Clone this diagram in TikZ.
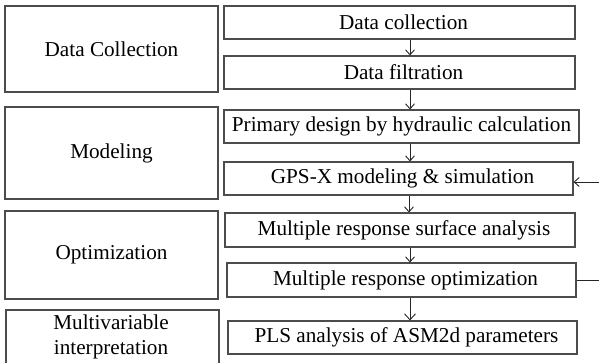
\documentclass[tikz,border=0pt]{standalone}
\usepackage{fontspec}
\setmainfont{Liberation Serif}
\usetikzlibrary{arrows.meta}
\begin{document}
\begin{tikzpicture}[x=1pt,y=-1pt,
  lbox/.style={draw=black!70,line width=1.1pt,inner sep=0pt,align=center,
    font=\fontsize{21.2}{25}\selectfont,text=black},
  rbox/.style={draw=black!70,line width=1.1pt,inner sep=0pt,
    font=\fontsize{21.2}{25}\selectfont,text=black,
    execute at begin node={\hspace*{#1}}},
  rbox/.default=8pt,
  lbl/.style={inner sep=0pt,align=center,font=\fontsize{21.2}{25}\selectfont,text=black},
  flow/.style={draw=black!85,line width=0.9pt,-{Straight Barb[length=5pt,width=9pt,line width=0.9pt]}},
  fline/.style={draw=black!85,line width=0.9pt}]
\useasboundingbox (0,0) rectangle (599,362);
\clip (0,0) rectangle (599,362);
% left phase boxes
\node[lbox,minimum width=213pt,minimum height=86pt] (l1) at (111.5,49) {Data Collection};
\node[lbox,minimum width=213pt,minimum height=92pt] (l2) at (111.5,153) {Modeling};
\node[lbox,minimum width=213pt,minimum height=88pt] (l3) at (111.5,255) {Optimization};
\node[lbox,minimum width=213pt,minimum height=70pt] (l4) at (112.5,345) {};
\node[lbl] (l4t) at (111,337) {Multivariable\\interpretation};
% right step boxes
\node[rbox,minimum width=351pt,minimum height=33pt] (r1) at (399.5,22.5) {Data collection};
\node[rbox,minimum width=351pt,minimum height=33pt] (r2) at (399.5,72.5) {Data filtration};
\node[rbox=0pt,minimum width=355pt,minimum height=33pt] (r3) at (401.5,126.5) {Primary design by hydraulic calculation};
\node[rbox,minimum width=349pt,minimum height=33pt] (r4) at (398.5,178.5) {GPS-X modeling \& simulation};
\node[rbox,minimum width=350pt,minimum height=34pt] (r5) at (400,230) {Multiple response surface analysis};
\node[rbox,minimum width=349pt,minimum height=34pt] (r6) at (401.5,280) {Multiple response optimization};
\node[rbox,minimum width=349pt,minimum height=33pt] (r7) at (402.5,337.5) {PLS analysis of ASM2d parameters};
% arrow axis
\coordinate (ax) at (410,0);
\draw[flow] (r1.south -| ax) -- (r2.north -| ax);
\draw[flow] (r2.south -| ax) -- (r3.north -| ax);
\draw[flow] (r3.south -| ax) -- (r4.north -| ax);
\draw[flow] ([xshift=-1pt]r4.south -| ax) -- ([xshift=-1pt]r5.north -| ax);
\draw[flow] (r5.south -| ax) -- (r6.north -| ax);
\draw[flow,-{Straight Barb[length=6pt,width=11pt,line width=0.9pt]}] (r6.south -| ax) -- (r7.north -| ax);
% feedback loop (leaves the picture at the right)
\coordinate (fbin) at (600,182);
\coordinate (fbout) at (600,280);
\draw[flow] (fbin) -- (fbin -| r4.east);
\draw[fline] (r6.east) -- (fbout);
\end{tikzpicture}
\end{document}
